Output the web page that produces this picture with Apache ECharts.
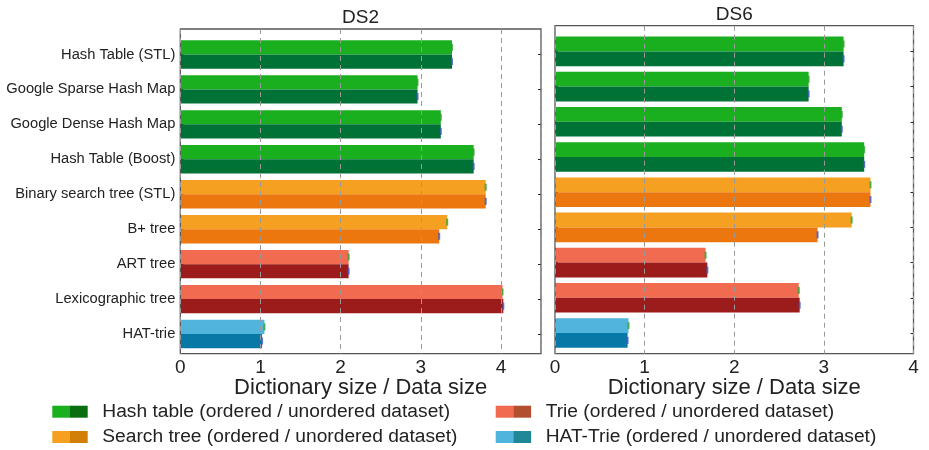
<!DOCTYPE html>
<html><head><meta charset="utf-8">
<script src="https://cdn.jsdelivr.net/npm/echarts@6/dist/echarts.min.js"></script>
<style>html,body{margin:0;padding:0;background:#fff}#c{width:929px;height:450px}</style>
</head><body><div id="c"></div>
<script>
// ---------- data ----------
const categories = ['Hash Table (STL)', 'Google Sparse Hash Map', 'Google Dense Hash Map', 'Hash Table (Boost)',
  'Binary search tree (STL)', 'B+ tree', 'ART tree', 'Lexicographic tree', 'HAT-trie'];
const groupOf = [0, 0, 0, 0, 1, 1, 2, 2, 3]; // 0 hash table, 1 search tree, 2 trie, 3 HAT-trie
const ds2Ordered   = [3.39, 2.96, 3.25, 3.66, 3.81, 3.33, 2.10, 4.02, 1.05];
const ds2Unordered = [3.39, 2.96, 3.25, 3.66, 3.81, 3.23, 2.10, 4.03, 1.02];
const ds6Ordered   = [3.22, 2.83, 3.20, 3.45, 3.52, 3.31, 1.68, 2.72, 0.82];
const ds6Unordered = [3.22, 2.83, 3.20, 3.45, 3.52, 2.93, 1.70, 2.73, 0.81];
const xTickLabels = [0, 1, 2, 3, 4];
const panelTitles = ['DS2', 'DS6'];
const axisTitle = 'Dictionary size / Data size';
const legendLabels = ['Hash table (ordered / unordered dataset)', 'Search tree (ordered / unordered dataset)',
  'Trie (ordered / unordered dataset)', 'HAT-Trie (ordered / unordered dataset)'];

// ---------- style ----------
const orderedColors   = ['#1aaf1f', '#f5a021', '#f06b50', '#50b4dc'];
const unorderedColors = ['#007236', '#ec770e', '#9b1c1a', '#0878a6'];
const legendDark      = ['#0a6e10', '#d27f08', '#b14f30', '#1f8795'];
const FONT = 'Liberation Sans';
const TXT = '#222';

const panels = [
  { ord: ds2Ordered, unord: ds2Unordered, max: 4.5, left: 180.3, right: 388, frameTop: 29, frameBottom: 96.3,
    barTop: 37, barBottom: 98.5, barW: 14.2, titleX: 360.6, titleY: 18, showLabels: true },
  { ord: ds6Ordered, unord: ds6Unordered, max: 4, left: 555, right: 15.5, frameTop: 25.7, frameBottom: 96.3,
    barTop: 33.8, barBottom: 99.4, barW: 14.8, titleX: 734.3, titleY: 15, showLabels: false }
];

const grid = [], xAxis = [], yAxis = [], series = [], title = [];
panels.forEach((p, k) => {
  const gF = grid.length;
  grid.push({ left: p.left, right: p.right, top: p.frameTop, bottom: p.frameBottom, show: true,
    borderColor: '#555', borderWidth: 1.3, z: 4 });
  const gB = grid.length;
  grid.push({ left: p.left, right: p.right, top: p.barTop, bottom: p.barBottom });

  xAxis.push({ gridIndex: gF, type: 'value', min: 0, max: p.max, interval: 1, z: 5,
    axisLine: { show: false }, axisTick: { show: false },
    splitLine: { show: true, lineStyle: { color: '#999', width: 1, type: [5, 4] } },
    axisLabel: { fontFamily: FONT, fontSize: 19, color: TXT, margin: 5, showMaxLabel: p.max === 4,
      formatter: v => (xTickLabels.indexOf(v) >= 0 ? String(v) : '') },
    name: axisTitle, nameLocation: 'middle', nameGap: 23, nameMoveOverlap: false,
    nameTextStyle: { fontFamily: FONT, fontSize: 22, color: TXT } });
  const xB = xAxis.length;
  xAxis.push({ gridIndex: gB, type: 'value', min: 0, max: p.max, show: false });

  yAxis.push({ gridIndex: gF, type: 'value', min: 0, max: 1, show: false });
  const yB = yAxis.length;
  yAxis.push({ gridIndex: gB, type: 'category', data: categories, inverse: true, position: 'left',
    axisLine: { show: false }, splitLine: { show: false },
    axisTick: { show: true, inside: true, alignWithLabel: true, length: 3, lineStyle: { color: '#222' } },
    axisLabel: { show: p.showLabels, fontFamily: FONT, fontSize: 14.7, color: TXT, margin: 5 } });
  yAxis.push({ gridIndex: gB, type: 'category', data: categories, inverse: true, position: 'right',
    axisLine: { show: false }, splitLine: { show: false },
    axisTick: { show: true, inside: true, alignWithLabel: true, length: 3, lineStyle: { color: '#222' } },
    axisLabel: { show: false } });

  series.push({ type: 'bar', name: 'ordered', xAxisIndex: xB, yAxisIndex: yB, barWidth: p.barW, barGap: '0%',
    data: p.ord.map((v, i) => ({ value: v, itemStyle: { color: orderedColors[groupOf[i]] } })), z: 2, silent: true });
  series.push({ type: 'bar', name: 'unordered', xAxisIndex: xB, yAxisIndex: yB, barWidth: p.barW, barGap: '0%',
    data: p.unord.map((v, i) => ({ value: v, itemStyle: { color: unorderedColors[groupOf[i]] } })), z: 2, silent: true });
  series.push({ type: 'scatter', xAxisIndex: xB, yAxisIndex: yB, symbol: 'rect', symbolSize: [2, 7],
    symbolOffset: [0, -p.barW / 2], data: p.ord.map((v, i) => [v, i]), itemStyle: { color: '#2ca02c' }, z: 3, silent: true });
  series.push({ type: 'scatter', xAxisIndex: xB, yAxisIndex: yB, symbol: 'rect', symbolSize: [2, 7],
    symbolOffset: [0, p.barW / 2], data: p.unord.map((v, i) => [v, i]), itemStyle: { color: '#3f55c0' }, z: 3, silent: true });

  title.push({ text: panelTitles[k], left: p.titleX, top: p.titleY - 10, textAlign: 'center', padding: 0,
    textStyle: { fontFamily: FONT, fontSize: 19, fontWeight: 'normal', color: TXT } });
});

// legend drawn as graphic (two-tone swatches)
const legendPos = [[52.3, 411.7], [52.3, 437], [495.7, 411.7], [495.7, 437]];
const graphic = [];
legendLabels.forEach((lab, i) => {
  const [x, y] = legendPos[i];
  graphic.push({ type: 'rect', shape: { x: x, y: y - 6, width: 18, height: 12 }, style: { fill: orderedColors[i] } });
  graphic.push({ type: 'rect', shape: { x: x + 17.7, y: y - 6, width: 17.7, height: 12 }, style: { fill: legendDark[i] } });
  graphic.push({ type: 'text', x: x + 50, y: y, style: { text: lab, fontFamily: FONT, fontSize: 19.2, fill: TXT,
    verticalAlign: 'middle', align: 'left' } });
});

const chart = echarts.init(document.getElementById('c'), null, { renderer: 'canvas' });
chart.setOption({ animation: false, backgroundColor: '#fff', title, grid, xAxis, yAxis, series, graphic });
</script></body></html>
